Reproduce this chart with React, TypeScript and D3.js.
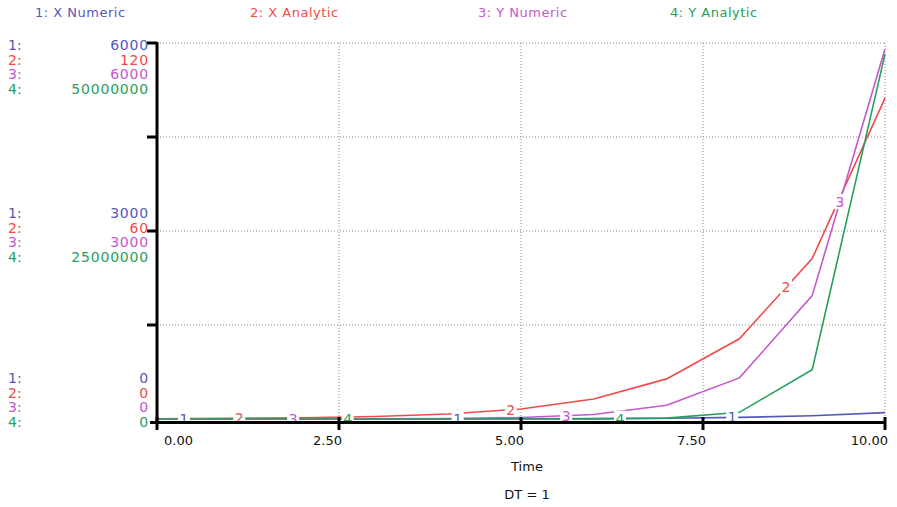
import React, { useRef, useEffect } from 'react';
import * as d3 from 'd3';

// time steps (DT = 1)
const times = [0, 1, 2, 3, 4, 5, 6, 7, 8, 9, 10];

// values
const xNumeric = [0.1, 0.2, 0.4, 0.8, 1.6, 3.2, 6.4, 12.8, 25.6, 51.2, 102.4];
const xAnalytic = [0.1, 0.2, 0.4, 0.8, 1.6, 3.2, 6.4, 12.8, 25.6, 51.2, 102.4];
const yNumeric = [0.1, 0.3, 0.9, 2.7, 8.1, 24.3, 72.9, 218.7, 656.1, 1968.3, 5904.9];
const yAnalytic = [0.1, 0.74, 5.5, 40, 298, 2203, 16275, 120260, 888611, 6565997, 48516520];

const seriesNames = ['X Numeric', 'X Analytic', 'Y Numeric', 'Y Analytic'];
const seriesMax = [6000, 120, 6000, 50000000];
const seriesColors = ['#5558b8', '#f04a4a', '#c458cc', '#26a05a'];

// where the little series numbers sit along each curve
const labelTimes = [
  [0.37, 4.13, 7.9],
  [1.13, 4.86, 8.64],
  [1.87, 5.62, 9.38],
  [2.62, 6.36],
];

const xTicks = [0, 2.5, 5, 7.5, 10];

function App() {
  const svgRef = useRef(null);
  const width = 897;
  const height = 507;

  useEffect(() => {
    const svg = d3.select(svgRef.current);
    svg.selectAll('*').remove();

    const font = 'DejaVu Sans, Verdana, sans-serif';
    const allSeries = [xNumeric, xAnalytic, yNumeric, yAnalytic];

    const x = d3.scaleLinear().domain([0, 10]).range([157, 885]);
    const yFrac = d3.scaleLinear().domain([0, 1]).range([419, 43]);
    const yScales = seriesMax.map(m => d3.scaleLinear().domain([0, m]).range([419, 43]));

    // dotted grid
    const grid = svg.append('g')
      .attr('stroke', '#8a8a8a')
      .attr('stroke-width', 1)
      .attr('stroke-dasharray', '1,2');
    [0.25, 0.5, 0.75, 1].forEach(f => {
      grid.append('line')
        .attr('x1', x(0)).attr('x2', x(10))
        .attr('y1', yFrac(f)).attr('y2', yFrac(f));
    });
    xTicks.slice(1).forEach(t => {
      grid.append('line')
        .attr('x1', x(t)).attr('x2', x(t))
        .attr('y1', yFrac(1)).attr('y2', yFrac(0));
    });

    // lines
    allSeries.forEach((vals, i) => {
      const line = d3.line<number>()
        .x((d, j) => x(times[j]))
        .y(d => yScales[i](d));
      svg.append('path')
        .datum(vals)
        .attr('fill', 'none')
        .attr('stroke', seriesColors[i])
        .attr('stroke-width', 1.6)
        .attr('d', line);
    });

    // series number labels along the curves
    allSeries.forEach((vals, i) => {
      const interp = d3.scaleLinear().domain(times).range(vals);
      labelTimes[i].forEach(t => {
        const cx = x(t);
        const cy = yScales[i](interp(t));
        svg.append('rect')
          .attr('x', cx - 6).attr('y', cy - 8)
          .attr('width', 12).attr('height', 15)
          .attr('fill', '#fff');
        svg.append('text')
          .attr('x', cx).attr('y', cy + 5)
          .attr('text-anchor', 'middle')
          .attr('fill', seriesColors[i])
          .style('font-family', font)
          .style('font-size', '14px')
          .text(i + 1);
      });
    });

    // axes
    const axis = svg.append('g').attr('stroke', '#000');
    axis.append('line')
      .attr('x1', x(0)).attr('x2', x(0))
      .attr('y1', yFrac(1) - 1).attr('y2', 424)
      .attr('stroke-width', 3);
    axis.append('line')
      .attr('x1', 150).attr('x2', x(10) + 1)
      .attr('y1', 422.5).attr('y2', 422.5)
      .attr('stroke-width', 3);
    [0.25, 0.5, 0.75, 1].forEach(f => {
      axis.append('line')
        .attr('x1', 147).attr('x2', x(0))
        .attr('y1', yFrac(f)).attr('y2', yFrac(f))
        .attr('stroke-width', 3);
    });
    xTicks.forEach(t => {
      axis.append('line')
        .attr('x1', x(t)).attr('x2', x(t))
        .attr('y1', 417).attr('y2', 430)
        .attr('stroke-width', 3);
    });

    // x tick labels
    xTicks.forEach((t, i) => {
      svg.append('text')
        .attr('x', i === 0 ? x(t) + 7 : x(t) + 3)
        .attr('y', 445)
        .attr('text-anchor', i === 0 ? 'start' : 'end')
        .attr('fill', '#111')
        .style('font-family', font)
        .style('font-size', '13px')
        .text(t.toFixed(2));
    });

    svg.append('text')
      .attr('x', 527).attr('y', 471)
      .attr('text-anchor', 'middle')
      .attr('fill', '#111')
      .style('font-family', font)
      .style('font-size', '13px')
      .text('Time');

    svg.append('text')
      .attr('x', 527).attr('y', 499)
      .attr('text-anchor', 'middle')
      .attr('fill', '#111')
      .style('font-family', font)
      .style('font-size', '13px')
      .text('DT = 1');

    // top legend
    const legendX = [35, 250, 478, 670];
    seriesNames.forEach((name, i) => {
      svg.append('text')
        .attr('x', legendX[i]).attr('y', 17)
        .attr('fill', seriesColors[i])
        .style('font-family', font)
        .style('font-size', '13px')
        .style('letter-spacing', '0.5px')
        .text(`${i + 1}: ${name}`);
    });

    // left value scales, one group per level
    const groups = [
      { frac: 1, top: 45 },
      { frac: 0.5, top: 213 },
      { frac: 0, top: 378 },
    ];
    groups.forEach(g => {
      seriesMax.forEach((m, i) => {
        const cy = g.top + i * 14.7;
        svg.append('text')
          .attr('x', 8).attr('y', cy + 5)
          .attr('fill', seriesColors[i])
          .style('font-family', font)
          .style('font-size', '14px')
          .text(`${i + 1}:`);
        svg.append('text')
          .attr('x', 149).attr('y', cy + 5)
          .attr('text-anchor', 'end')
          .attr('fill', seriesColors[i])
          .style('font-family', font)
          .style('font-size', '14px')
          .style('letter-spacing', '0.8px')
          .text(String(m * g.frac));
      });
    });
  }, []);

  return (
    <svg
      ref={svgRef}
      width={width}
      height={height}
      style={{ position: 'absolute', left: 0, top: 0, background: '#fff' }}
    />
  );
}

export default App;
